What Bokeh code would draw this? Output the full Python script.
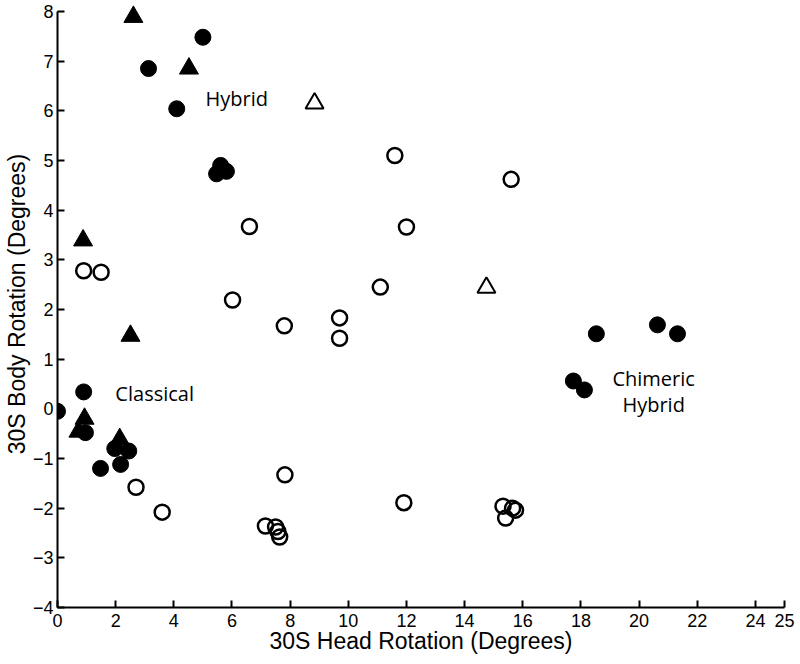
from bokeh.plotting import figure
from bokeh.models import Range1d, FixedTicker
from bokeh.core.properties import value
from bokeh.embed import file_html
from bokeh.resources import INLINE

# ---- data ----
filled_circle_x = [0.0, 0.9, 0.96, 1.97, 2.45, 2.17, 1.48, 3.13, 5.0, 4.1, 5.61, 5.47, 5.81,
                   18.53, 20.63, 21.32, 17.74, 18.12]
filled_circle_y = [-0.05, 0.34, -0.48, -0.8, -0.85, -1.12, -1.2, 6.85, 7.48, 6.04, 4.9, 4.73, 4.78,
                   1.51, 1.69, 1.51, 0.56, 0.38]

open_circle_x = [0.9, 1.5, 2.7, 3.6, 6.6, 6.02, 7.8, 9.7, 9.7, 11.1, 11.6, 12.0, 15.6,
                 7.82, 11.91, 7.15, 7.5, 7.58, 7.64, 15.32, 15.65, 15.75, 15.41]
open_circle_y = [2.78, 2.75, -1.58, -2.08, 3.67, 2.19, 1.67, 1.83, 1.42, 2.45, 5.1, 3.66, 4.62,
                 -1.33, -1.89, -2.36, -2.38, -2.47, -2.58, -1.96, -2.0, -2.04, -2.2]

filled_tri_x = [2.61, 4.52, 0.88, 2.51, 0.93, 0.72, 2.14]
filled_tri_y = [7.89, 6.85, 3.39, 1.47, -0.2, -0.46, -0.61]

open_tri_x = [8.84, 14.75]
open_tri_y = [6.15, 2.44]

x_ticks = [0, 2, 4, 6, 8, 10, 12, 14, 16, 18, 20, 22, 24, 25]
y_ticks = [-4, -3, -2, -1, 0, 1, 2, 3, 4, 5, 6, 7, 8]

labels = ["Hybrid", "Classical", "Chimeric", "Hybrid"]
label_x = [5.09, 1.99, 20.5, 20.5]
label_y = [6.25, 0.30, 0.62, 0.09]
label_align = ["left", "left", "center", "center"]

# ---- figure ----
p = figure(width=800, height=664, output_backend="svg", toolbar_location=None,
           x_range=Range1d(0, 25), y_range=Range1d(-4, 8.22),
           min_border_left=57, min_border_right=16, min_border_top=0, min_border_bottom=57)
p.outline_line_color = None
p.xgrid.visible = False
p.ygrid.visible = False
p.background_fill_color = "white"

for ax in (p.xaxis[0], p.yaxis[0]):
    ax.axis_line_color = "black"
    ax.axis_line_width = 2
    ax.major_tick_line_color = "black"
    ax.major_tick_line_width = 2
    ax.major_tick_in = 7
    ax.major_tick_out = 0
    ax.minor_tick_line_color = None
    ax.major_label_text_font = "Liberation Sans"
    ax.major_label_text_font_size = "18px"
    ax.major_label_text_color = "black"
    ax.axis_label_text_font = "Liberation Sans"
    ax.axis_label_text_font_size = "23px"
    ax.axis_label_text_font_style = "normal"
    ax.axis_label_text_color = "black"

p.yaxis.bounds = (-4, 8)
p.xaxis.ticker = FixedTicker(ticks=x_ticks)
p.yaxis.ticker = FixedTicker(ticks=y_ticks)
p.yaxis.major_label_overrides = {t: (str(t).replace("-", "\u2212")) for t in y_ticks}
p.xaxis.major_label_standoff = 6
p.yaxis.major_label_standoff = 4
p.xaxis.axis_label = "30S Head Rotation (Degrees)"
p.yaxis.axis_label = "30S Body Rotation (Degrees)"
p.xaxis.axis_label_standoff = -2
p.yaxis.axis_label_standoff = 0

p.scatter(open_circle_x, open_circle_y, marker="circle", size=15,
          fill_color="white", fill_alpha=0.0, line_color="black", line_width=2.5)
p.scatter(filled_circle_x, filled_circle_y, marker="circle", size=16,
          fill_color="black", line_color="black", line_width=1)
p.scatter(open_tri_x, open_tri_y, marker="triangle", size=18,
          fill_color="white", line_color="black", line_width=2)
p.scatter(filled_tri_x, filled_tri_y, marker="triangle", size=19,
          fill_color="black", line_color="black", line_width=1)

for t, x, y, a in zip(labels, label_x, label_y, label_align):
    p.text(x=[x], y=[y], text=[t], text_font=value("Open Sans"), text_font_size="20px",
           text_align=a, text_baseline="middle", text_color="black")

with open("out.html", "w") as f:
    f.write(file_html(p, INLINE))
